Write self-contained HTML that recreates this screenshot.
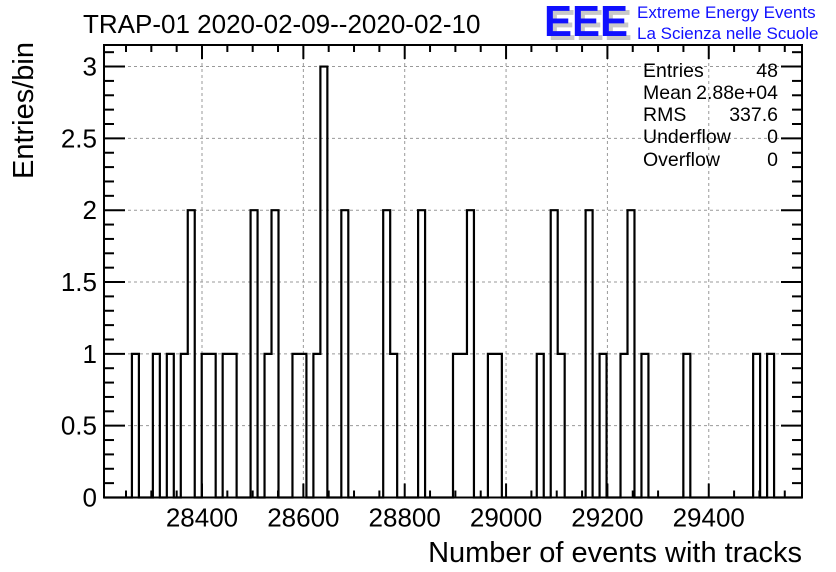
<!DOCTYPE html>
<html><head><meta charset="utf-8"><style>
body{margin:0;background:#fff}
svg{display:block;font-family:"Liberation Sans",Arial,sans-serif}
</style></head><body>
<svg id="chart" width="836" height="572" viewBox="0 0 836 572">
<rect width="836" height="572" fill="#fff"/>
<g id="grid"></g>
<g id="hist"></g>
<g id="axes"></g>
<text x="83" y="33" font-size="26">TRAP-01 2020-02-09--2020-02-10</text>
<text transform="translate(33,42) rotate(-90)" text-anchor="end" font-size="29">Entries/bin</text>
<text x="802" y="562" text-anchor="end" font-size="29">Number of events with tracks</text>
<g>
<text x="548" y="40" font-size="44" font-weight="bold" fill="#c8c8c8" textLength="84" lengthAdjust="spacingAndGlyphs">EEE</text>
<text x="544" y="36" font-size="44" font-weight="bold" fill="#1010ff" textLength="84" lengthAdjust="spacingAndGlyphs">EEE</text>
<text x="637" y="18" font-size="17" fill="#1010ff">Extreme Energy Events</text>
<text x="637" y="39" font-size="17" fill="#1010ff">La Scienza nelle Scuole</text>
</g>
<g font-size="19.5">
<text x="643" y="77">Entries</text><text x="778" y="77" text-anchor="end">48</text>
<text x="643" y="99">Mean</text><text x="778" y="99" text-anchor="end">2.88e+04</text>
<text x="643" y="121">RMS</text><text x="778" y="121" text-anchor="end">337.6</text>
<text x="643" y="143">Underflow</text><text x="778" y="143" text-anchor="end">0</text>
<text x="643" y="166">Overflow</text><text x="778" y="166" text-anchor="end">0</text>
</g>
</svg>
<script>
const binIndex = [4,7,9,11,12,14,15,17,18,21,23,24,27,28,30,31,34,40,41,45,50,51,52,55,56,62,64,65,69,71,74,75,77,83,93,95];
const binCount = [1,1,1,1,2,1,1,1,1,2,1,2,1,1,1,3,2,2,1,2,1,1,2,1,1,1,2,1,2,1,1,2,1,1,1,1];
const xTicks = [28400,28600,28800,29000,29200,29400];
const yTicks = [0,0.5,1,1.5,2,2.5,3];
const yTickLabels = ["0","0.5","1","1.5","2","2.5","3"];
const nBins = 100, xMin = 28206.6, xMax = 29584, yMax = 3.15;
const L=104,R=802,T=45,B=497.5;
const sx = v => L + (v - xMin)/(xMax - xMin)*(R-L);
const sy = v => B - v/yMax*(B-T);
const bw = (xMax-xMin)/nBins;
const NS="http://www.w3.org/2000/svg";
function mk(tag, attrs, parent){const e=document.createElementNS(NS,tag);for(const k in attrs)e.setAttribute(k,attrs[k]);parent.appendChild(e);return e;}
const grid=document.getElementById('grid'), hist=document.getElementById('hist'), axes=document.getElementById('axes');
xTicks.forEach(t=>{const l=mk('line',{x1:sx(t),x2:sx(t),y1:T,y2:B,stroke:'#999','stroke-dasharray':'3,3','stroke-width':1},grid);

});
yTicks.forEach(t=>{if(t===0)return;const l=mk('line',{x1:L,x2:R,y1:sy(t),y2:sy(t),stroke:'#999','stroke-dasharray':'3,3','stroke-width':1},grid);

});
const counts=new Array(nBins).fill(0);
binIndex.forEach((b,i)=>counts[b]=binCount[i]);
let d='M'+L+','+B, prev=0;
for(let i=0;i<nBins;i++){const x0=sx(xMin+i*bw),x1=sx(xMin+(i+1)*bw);const c=counts[i];
 if(c!==prev) d+=' L'+x0+','+sy(c); else if(i===0) d+=' L'+x0+','+sy(c);
 d+=' L'+x1+','+sy(c); prev=c;}
d+=' L'+R+','+B;
const p=mk('path',{d:d,fill:'none',stroke:'#000','stroke-width':2.2},hist);


const f=mk('rect',{x:L,y:T,width:R-L,height:B-T,fill:'none',stroke:'#000','stroke-width':2},axes);


for(let v=28250; v<=29550; v+=50){const major=(v%200===0);const len=major?14:7;const x=sx(v);
 mk('line',{x1:x,x2:x,y1:B,y2:B-len,stroke:'#000','stroke-width':2},axes);
 mk('line',{x1:x,x2:x,y1:T,y2:T+len,stroke:'#000','stroke-width':2},axes);}
xTicks.forEach(t=>{const tx=mk('text',{x:sx(t),y:B+29,'text-anchor':'middle','font-size':26},axes);tx.textContent=t;

});
for(let k=0;k<=31;k++){const v=k*0.1;const major=(k%5===0);const len=major?21:10;const y=sy(v);
 mk('line',{x1:L,x2:L+len,y1:y,y2:y,stroke:'#000','stroke-width':2},axes);
 mk('line',{x1:R,x2:R-len,y1:y,y2:y,stroke:'#000','stroke-width':2},axes);}
yTicks.forEach((t,i)=>{const tx=mk('text',{x:L-7,y:sy(t)+9,'text-anchor':'end','font-size':26},axes);tx.textContent=yTickLabels[i];

});
</script>
</body></html>
